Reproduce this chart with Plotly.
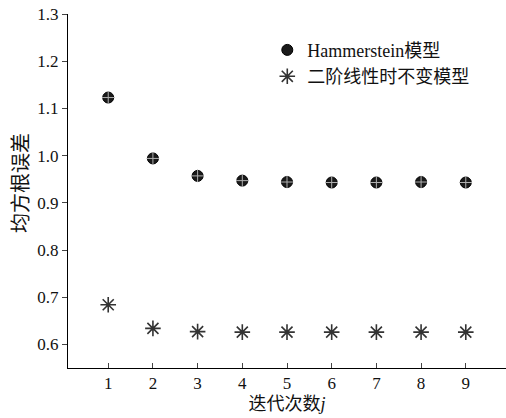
import plotly.graph_objects as go

iterations = [1, 2, 3, 4, 5, 6, 7, 8, 9]
hammerstein_rmse = [1.123, 0.994, 0.957, 0.947, 0.944, 0.943, 0.943, 0.944, 0.943]
linear_rmse = [0.684, 0.634, 0.627, 0.626, 0.626, 0.626, 0.626, 0.626, 0.626]
y_ticks = [0.6, 0.7, 0.8, 0.9, 1.0, 1.1, 1.2, 1.3]
y_tick_labels = ["0.6", "0.7", "0.8", "0.9", "1.0", "1.1", "1.2", "1.3"]

serif = "'Times New Roman', 'Liberation Serif', serif"
cjk = "'Times New Roman', 'Liberation Serif', 'Noto Sans CJK SC', serif"

fig = go.Figure()
fig.add_trace(go.Scatter(
    x=iterations, y=hammerstein_rmse, mode="markers", name="Hammerstein模型",
    marker=dict(symbol="circle", size=11, color="#1a1a1a", line=dict(color="#000", width=1)),
))
fig.add_trace(go.Scatter(
    x=iterations, y=hammerstein_rmse, mode="markers", showlegend=False, hoverinfo="skip",
    marker=dict(symbol="cross-thin-open", size=9, color="#b0b0b0", line=dict(color="#b0b0b0", width=1)),
))
fig.add_trace(go.Scatter(
    x=iterations, y=linear_rmse, mode="markers", name="二阶线性时不变模型",
    marker=dict(symbol="asterisk-open", size=13, color="#333", line=dict(color="#333", width=1.6)),
))

fig.add_annotation(
    text="均方根误差", xref="paper", yref="paper", x=-0.107, y=0.523,
    xanchor="center", yanchor="middle", textangle=-90, showarrow=False,
    font=dict(family=cjk, size=20, color="#111"),
)

fig.update_layout(
    width=506, height=418,
    margin=dict(l=68, r=0, t=14, b=50),
    paper_bgcolor="white", plot_bgcolor="white",
    font=dict(family=cjk, size=16, color="#111"),
    legend=dict(x=0.455, y=0.95, xanchor="left", yanchor="top",
                bgcolor="rgba(0,0,0,0)", font=dict(family=cjk, size=18),
                itemsizing="trace", tracegroupgap=0),
    xaxis=dict(range=[0.1, 9.9], tickvals=iterations, ticks="inside", ticklen=5,
               showline=True, linecolor="#000", linewidth=1, showgrid=False, zeroline=False,
               tickfont=dict(family=serif, size=17),
               title=dict(text="迭代次数<i>j</i>", font=dict(family=cjk, size=18), standoff=4)),
    yaxis=dict(range=[0.55, 1.3], tickvals=y_ticks, ticktext=y_tick_labels, ticks="outside", ticklen=5,
               showline=True, linecolor="#000", linewidth=1, showgrid=False, zeroline=False,
               tickfont=dict(family=serif, size=17)),
)

fig.write_html("out.html")
